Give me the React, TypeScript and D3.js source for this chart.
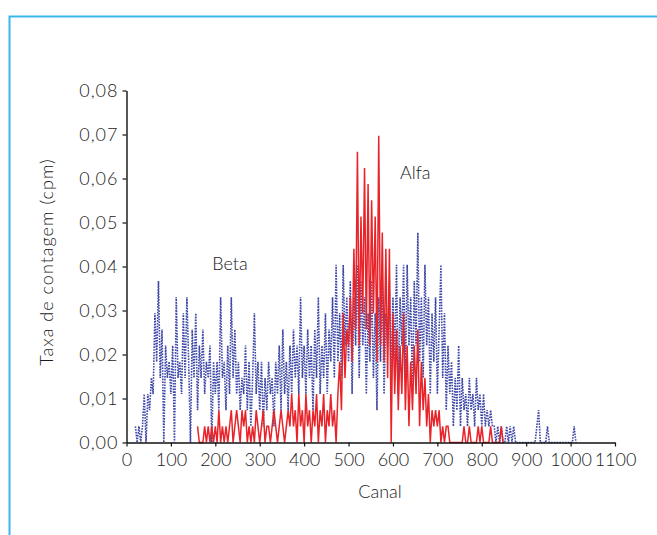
import { useRef, useEffect } from 'react';
import * as d3 from 'd3';

// spectrum: counts per channel bin (one value every 4 channels)
const CHANNEL_STEP = 4;
const COUNT_UNIT = 0.00367; // cpm represented by one count

const betaStart = 20;
const beta020 = [1, 0, 1, 0, 1, 3, 0, 3, 2, 4, 3, 8, 5, 10, 4, 7, 0, 6, 4, 5];
const beta100 = [3, 6, 0, 9, 4, 5, 3, 8, 4, 9, 5, 0, 7, 4, 8, 2, 6, 4, 7, 3, 5, 4, 6, 0, 5];
const beta200 = [3, 5, 2, 9, 4, 5, 2, 6, 3, 9, 4, 7, 3, 5, 2, 4, 3, 6, 2, 5, 1, 4, 8, 3, 5];
const beta300 = [2, 5, 1, 4, 2, 5, 3, 4, 1, 5, 3, 6, 2, 7, 3, 5, 2, 6, 3, 7, 4, 6, 3, 9, 4];
const beta400 = [6, 3, 7, 4, 6, 2, 7, 4, 9, 3, 6, 4, 8, 3, 7, 5, 9, 4, 11, 5, 8, 4, 11, 6, 9];
const beta500 = [5, 10, 3, 9, 6, 11, 4, 10, 6, 9, 3, 8, 5, 10, 4, 8, 2, 9, 5, 10, 3, 8, 6, 10, 4];
const beta600 = [9, 5, 11, 3, 9, 6, 11, 4, 11, 6, 9, 3, 10, 6, 13, 5, 9, 4, 11, 6, 9, 3, 8, 5, 9];
const beta700 = [3, 7, 11, 4, 8, 2, 6, 3, 5, 1, 4, 2, 6, 1, 4, 2, 3, 1, 4, 2, 3, 1, 4, 2, 3];
const beta800 = [1, 3, 1, 2, 1, 2, 1, 1, 0, 1, 0, 1, 0, 0, 1, 0, 1, 0, 1, 0, 0, 0, 0, 0, 0];
const beta900 = [0, 0, 0, 0, 0, 0, 1, 2, 0, 0, 0, 0, 1, 0, 0, 0, 0, 0, 0, 0, 0, 0, 0, 0, 0, 0, 0, 1, 0];

const alfaStart = 160;
const alfa160 = [1, 0, 0, 0, 1, 0, 1, 0, 1, 0];
const alfa200 = [1, 0, 2, 0, 1, 0, 1, 0, 1, 2, 0, 1, 2, 1, 0, 2, 1, 2, 0, 1, 0, 1, 0, 2, 1];
const alfa300 = [0, 1, 2, 0, 1, 1, 0, 1, 2, 1, 0, 1, 2, 1, 0, 1, 2, 1, 3, 1, 2, 0, 3, 1, 2];
const alfa400 = [0, 3, 1, 2, 0, 2, 1, 3, 0, 2, 1, 3, 0, 2, 1, 3, 1, 2, 0, 3, 5, 2, 8, 4, 7];
const alfa500 = [6, 9, 5, 12, 7, 18, 6, 14, 8, 17, 7, 16, 6, 15, 8, 14, 5, 19, 6, 13, 5, 12, 4, 12, 0];
const alfa600 = [8, 3, 7, 2, 6, 3, 8, 2, 6, 1, 5, 2, 6, 3, 7, 1, 5, 2, 4, 1, 3, 0, 2, 1, 2];
const alfa700 = [1, 2, 0, 1, 0, 1, 1, 0, 0, 0, 0, 0, 0, 0, 0, 1, 0, 0, 1, 0, 0, 0, 0, 1, 0];
const alfa800 = [1, 0, 0, 0, 0, 1, 0, 0, 0, 0, 0, 1, 0];

const labels = [
    { text: 'Beta', channel: 193, rate: 0.0392 },
    { text: 'Alfa', channel: 616, rate: 0.0599 },
];

const FONT = 'Lato, "Open Sans", sans-serif';
const INK = '#1a1a1a';

function toPoints(start, counts) {
    return counts.map((c, i) => ({ channel: start + i * CHANNEL_STEP, rate: c * COUNT_UNIT }));
}

export default function App() {
    const svgRef = useRef(null);

    useEffect(() => {
        const width = 657;
        const height = 535;
        const svg = d3.select(svgRef.current);
        svg.selectAll('*').remove();

        const x = d3.scaleLinear().domain([0, 1100]).range([126.5, 615]);
        const y = d3.scaleLinear().domain([0, 0.08]).range([442.5, 90.5]);

        const beta = toPoints(betaStart, [
            ...beta020, ...beta100, ...beta200, ...beta300, ...beta400,
            ...beta500, ...beta600, ...beta700, ...beta800, ...beta900,
        ]);
        const alfa = toPoints(alfaStart, [
            ...alfa160, ...alfa200, ...alfa300, ...alfa400,
            ...alfa500, ...alfa600, ...alfa700, ...alfa800,
        ]);

        // light blue frame
        svg.append('path')
            .attr('d', `M9.5,${height}V16.5H${width}`)
            .attr('fill', 'none')
            .attr('stroke', '#3cb6e8')
            .attr('stroke-width', 2);

        const line = d3.line().x(d => x(d.channel)).y(d => y(d.rate));

        svg.append('path')
            .datum(beta)
            .attr('d', line)
            .attr('fill', 'none')
            .attr('stroke', '#3d47a6')
            .attr('stroke-width', 1.6)
            .attr('stroke-dasharray', '1.6 1.2');

        svg.append('path')
            .datum(alfa)
            .attr('d', line)
            .attr('fill', 'none')
            .attr('stroke', '#e8242a')
            .attr('stroke-width', 1.5);

        const yFmt = d3.format('.2f');
        const gy = svg.append('g')
            .attr('transform', 'translate(126.5,0)')
            .call(d3.axisLeft(y).ticks(8).tickSize(4).tickSizeOuter(0).tickPadding(4)
                .tickFormat(d => yFmt(d).replace('.', ',')));

        const gx = svg.append('g')
            .attr('transform', 'translate(0,442.5)')
            .call(d3.axisBottom(x).ticks(11).tickSize(4).tickSizeOuter(0).tickPadding(7)
                .tickFormat(d3.format('d')));

        [gx, gy].forEach(g => {
            g.select('.domain').attr('stroke', '#111').attr('stroke-width', 1.4);
            g.selectAll('.tick line').attr('stroke', '#111').attr('stroke-width', 1.2);
            g.selectAll('.tick text')
                .attr('fill', INK)
                .attr('font-family', FONT)
                .attr('font-weight', 300)
                .attr('font-size', 18);
        });
        gy.selectAll('.tick text').attr('letter-spacing', 1);

        svg.append('text')
            .attr('transform', 'translate(53,262) rotate(-90)')
            .attr('text-anchor', 'middle')
            .attr('font-family', FONT)
            .attr('font-weight', 300)
            .attr('font-size', 18)
            .attr('letter-spacing', 1)
            .attr('fill', INK)
            .text('Taxa de contagem (cpm)');

        svg.append('text')
            .attr('x', 380)
            .attr('y', 498)
            .attr('text-anchor', 'middle')
            .attr('font-family', FONT)
            .attr('font-weight', 300)
            .attr('font-size', 18)
            .attr('fill', INK)
            .text('Canal');

        svg.selectAll('.series-label')
            .data(labels)
            .enter()
            .append('text')
            .attr('x', d => x(d.channel))
            .attr('y', d => y(d.rate))
            .attr('font-family', FONT)
            .attr('font-weight', 300)
            .attr('font-size', 18)
            .attr('fill', INK)
            .text(d => d.text);
    }, []);

    return (
        <svg
            ref={svgRef}
            width={657}
            height={535}
            style={{ position: 'absolute', left: 0, top: 0, background: '#fff' }}
        />
    );
}
